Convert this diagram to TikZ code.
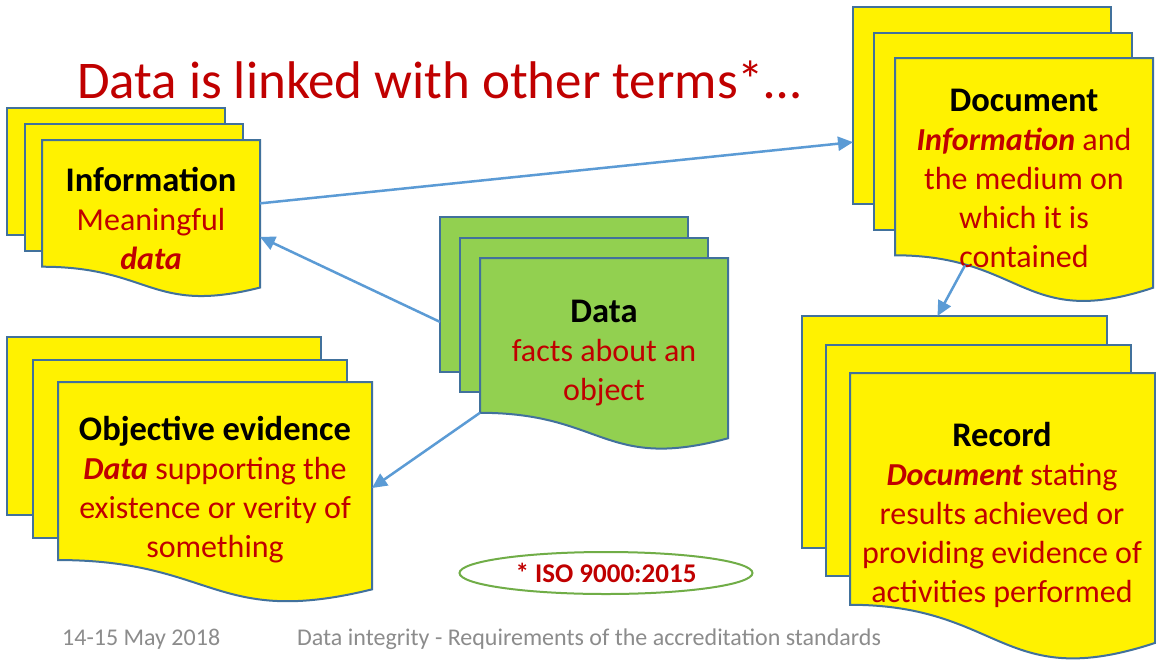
\documentclass[tikz,border=0pt]{standalone}
\usepackage{fontspec}
\setmainfont{Carlito}
\usepackage{xcolor}
\usepackage{tikz}
\usetikzlibrary{shapes.geometric,arrows.meta,calc}
\definecolor{slidered}{HTML}{C00000}
\definecolor{pageline}{HTML}{41719C}
\definecolor{linkblue}{HTML}{5B9BD5}
\definecolor{datagreen}{HTML}{92D050}
\definecolor{isogreen}{HTML}{70AD47}
\definecolor{footgray}{HTML}{8C8C8C}
\newcommand{\term}[1]{\textbf{\textit{#1}}}
\newcommand{\head}[1]{{\color{black}\fontsize{34.5}{39}\selectfont\textbf{#1}}}
% name, left, top, width, height, dx, dy, fill
\newcommand{\pagestack}[8]{%
  \node[page, fill=#8, minimum width=#4pt, minimum height={0.802*#5pt}] (#1-back) at ({#2-2*#6},{#3-2*#7}) {};
  \node[page, fill=#8, minimum width=#4pt, minimum height={0.802*#5pt}] (#1-mid) at ({#2-#6},{#3-#7}) {};
  \node[page, draw=none, minimum width=#4pt, minimum height={0.802*#5pt}] (#1-page) at (#2,#3) {};
  \filldraw[draw=pageline, line width=2pt, fill=#8] (#1-page.north west) -- (#1-page.north east)
    -- ($(#1-page.north east)+(0,{0.934*#5})$)
    .. controls ($(#1-page.north)+(0,{1.108*#5})$) and ($(#1-page.north)+(0,{0.802*#5})$) .. (#1-page.south west) -- cycle;
}
\tikzset{
  page/.style={rectangle, anchor=north west, inner sep=0pt, outer sep=0pt, draw=pageline, line width=2pt},
  termtext/.style={align=center, text=slidered, font=\fontsize{32}{39}\selectfont},
  link/.style={draw=linkblue, line width=2.5pt, -{Triangle[length=15pt,width=14pt]}},
  foottext/.style={anchor=base west, inner sep=0pt, text=footgray, font=\fontsize{24}{28}\selectfont},
}

\begin{document}
\begin{tikzpicture}[x=1pt,y=-1pt]
  \useasboundingbox[fill=white] (0,0) rectangle (1156,662);

  \node[anchor=base west, inner sep=0pt, text=slidered, font=\fontsize{53}{60}\selectfont] (title) at (77,98) {Data is linked with other terms*\ldots};

  \pagestack{info}{42}{140}{218}{158}{17.5}{16}{yellow}
  \pagestack{data}{480}{258}{248}{193}{20}{20.5}{datagreen}
  \pagestack{doc}{895}{58}{258}{246}{21}{25.5}{yellow}
  \pagestack{record}{850}{373}{305}{289}{24}{28.5}{yellow}
  \pagestack{evid}{58}{382}{314}{222}{25.5}{22.5}{yellow}

  \node[termtext] (info) at (151,218) {\head{Information}\\Meaningful\\\term{data}};
  \node[termtext] (data) at (604,353) {\head{Data}\\facts about an\\object};
  \node[termtext] (doc) at (1024,178) {\head{Document}\\\term{Information} and\\the medium on\\which it is\\contained};
  \node[termtext] (record) at (1002,515) {\head{Record}\\\term{Document} stating\\results achieved or\\providing evidence of\\activities performed};
  \node[termtext] (evid) at (215,490) {\head{Objective evidence}\\\term{Data} supporting the\\existence or verity of\\something};

  \draw[link] (info-page.east) -- ([yshift=-36.5pt]doc-back.west);
  \draw[link] ([yshift=-27.5pt]data-back.west) -- ([yshift=-33.5pt]info-page.east);
  \draw[link] (data-page.south west) -- ([yshift=-17pt]evid-page.east);
  \draw[link] ([xshift=70pt,yshift=-10pt]doc-page.south west) -- ([xshift=-17pt]record-back.north);

  \node[ellipse, draw=isogreen, line width=2pt, fill=white, minimum width=293pt, minimum height=42pt, inner sep=0pt,
    text=slidered, font=\fontsize{27}{30}\selectfont\bfseries] (iso) at (606,573) {* ISO 9000:2015};

  \node[foottext] (date) at (62,645) {14-15 May 2018};
  \node[foottext] (footer) at (297,645) {Data integrity - Requirements of the accreditation standards};
\end{tikzpicture}
\end{document}
